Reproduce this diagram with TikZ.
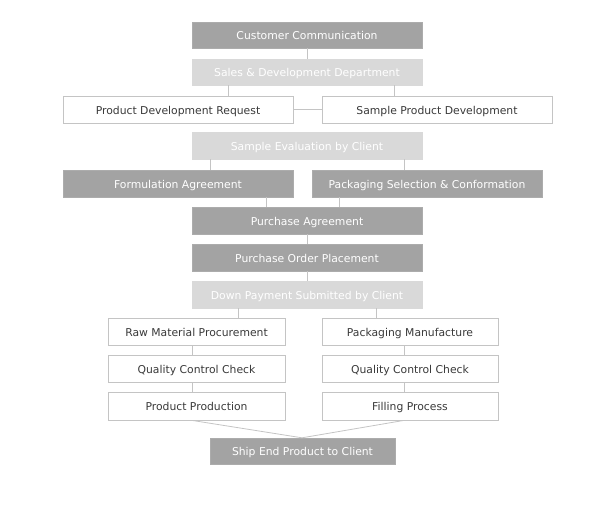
\documentclass[tikz,border=0pt]{standalone}
\usepackage{fontspec}
\setmainfont{DejaVu Sans}
\definecolor{darkbox}{HTML}{A3A3A3}
\definecolor{lightbox}{HTML}{D9D9D9}
\definecolor{edge}{HTML}{C4C4C4}
\definecolor{txt}{HTML}{3A3A3A}
\begin{document}
\begin{tikzpicture}[x=1pt,y=-1pt,
  base/.style={rectangle,inner sep=0pt,text height=10pt,text depth=0.6pt,font=\fontsize{10.8}{12}\selectfont},
  darkstep/.style={base,fill=darkbox,draw=darkbox!90!white,text=white},
  lightstep/.style={base,fill=lightbox,draw=lightbox,text=white},
  whitestep/.style={base,fill=white,draw=edge,line width=0.8pt,text=txt},
  link/.style={draw=edge,line width=0.8pt}]
\useasboundingbox (0,0) rectangle (600,509);
\def\bx#1#2#3#4#5#6{\node[#2,minimum width=#5-#3,minimum height=#6-#4] (#1) at ({(#3+#5)/2},{(#4+#6)/2})}
\bx{cc}{darkstep}{192}{22}{422}{48} {Customer Communication};
\bx{sd}{lightstep}{192}{59}{422}{85} {Sales \& Development Department};
\bx{pdr}{whitestep}{63}{96}{293}{123} {Product Development Request};
\bx{spd}{whitestep}{322}{96}{552}{123} {Sample Product Development};
\bx{se}{lightstep}{192}{132}{422}{159} {Sample Evaluation by Client};
\bx{fa}{darkstep}{63}{170}{293}{197} {Formulation Agreement};
\bx{ps}{darkstep}{312}{170}{542}{197} {Packaging Selection \& Conformation};
\bx{pa}{darkstep}{192}{207}{422}{234} {Purchase Agreement};
\bx{po}{darkstep}{192}{244}{422}{271} {Purchase Order Placement};
\bx{dp}{lightstep}{192}{281}{422}{308} {Down Payment Submitted by Client};
\bx{rm}{whitestep}{108}{318}{285}{345} {Raw Material Procurement};
\bx{pm}{whitestep}{322}{318}{498}{345} {Packaging Manufacture};
\bx{qa}{whitestep}{108}{355}{285}{382} {Quality Control Check};
\bx{qb}{whitestep}{322}{355}{498}{382} {Quality Control Check};
\bx{pp}{whitestep}{108}{392}{285}{420} {Product Production};
\bx{fp}{whitestep}{322}{392}{498}{420} {Filling Process};
\bx{sh}{darkstep}{210}{438}{395}{464} {Ship End Product to Client};
\coordinate (shtop) at ([xshift=-0.5pt]sh.north);
\draw[link] (cc.south) -- (sd.north);
\draw[link] (sd.south -| 228,0) -- (pdr.north -| 228,0);
\draw[link] (sd.south -| 394,0) -- (spd.north -| 394,0);
\draw[link] (pdr.east) -- (spd.west);
\draw[link] (se.south -| 210,0) -- (fa.north -| 210,0);
\draw[link] (se.south -| 404,0) -- (ps.north -| 404,0);
\draw[link] (fa.south -| 266,0) -- (pa.north -| 266,0);
\draw[link] (ps.south -| 339,0) -- (pa.north -| 339,0);
\draw[link] (pa.south) -- (po.north);
\draw[link] (po.south) -- (dp.north);
\draw[link] (dp.south -| 238,0) -- (rm.north -| 238,0);
\draw[link] (dp.south -| 376,0) -- (pm.north -| 376,0);
\draw[link] (rm.south -| 192,0) -- (qa.north -| 192,0);
\draw[link] (qa.south -| 192,0) -- (pp.north -| 192,0);
\draw[link] (pm.south -| 404,0) -- (qb.north -| 404,0);
\draw[link] (qb.south -| 404,0) -- (fp.north -| 404,0);
\draw[link] (pp.south -| 192,0) -- (shtop);
\draw[link] (fp.south -| 404,0) -- (shtop);
\end{tikzpicture}
\end{document}
